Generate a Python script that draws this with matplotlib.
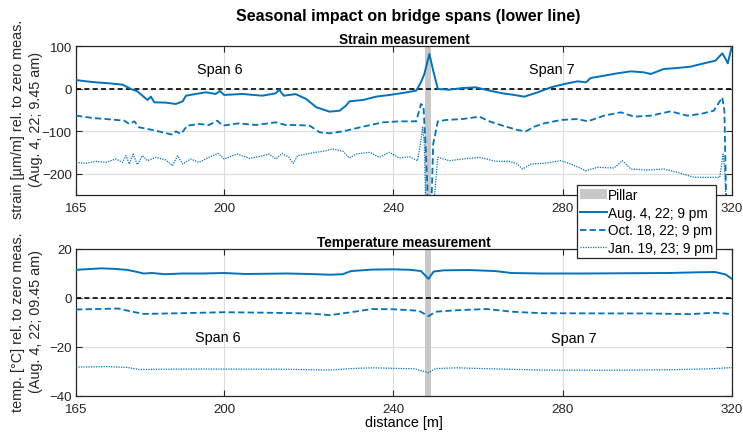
import matplotlib
matplotlib.use("Agg")
import matplotlib.pyplot as plt
from matplotlib.patches import Patch
from matplotlib.lines import Line2D

plt.rcParams['font.family'] = ['Liberation Sans', 'DejaVu Sans']

# ---------------- data ----------------
pillar = (247.5, 248.9)

# Strain, Aug. 4, 22; 9 pm (solid)
s_aug_x = [165, 167.4, 169.7, 172.9, 176, 178, 179.5, 180.7, 181.9, 182.7, 183.5, 186.2, 188.6,
           190.2, 191, 193.3, 195.7, 198, 199, 200, 204.3, 209, 212.2, 213, 214.1, 216.9,
           219.4, 221.8, 224.9, 227.3, 228.8, 229.6, 232.8, 235.9, 239.1, 242.2, 245.4,
           246.5, 247.3, 248.5, 249.4, 250.5, 253.2, 256.4, 259.5, 262.7, 265.8, 268.6,
           270.9, 274.1, 277.2, 280.4, 283.5, 285.5, 286.6, 289.8, 292.9, 296.1, 299.2,
           300.8, 303.9, 307.1, 310.2, 313.4, 316.1, 317.7, 318.5, 319, 320]
s_aug_y = [20.1, 17, 14.7, 12.3, 9.2, -1, -6.5, -16.7, -26.8, -19, -32.3, -33, -36.2,
           -30, -16.7, -12.7, -8.8, -12.7, -5.7, -15, -12.7, -16.7, -11.2, -2.6, -16.7, -13,
           -24.5, -44, -54.2, -51.9, -40.2, -30, -26.8, -19, -15, -10.4, -4.9,
           14.7, 34.2, 81.2, 42, -1, -2.6, 1.3, 2.9, -4.9, -11.2, -15,
           -19, -8.8, 2.9, 10.7, 17, 14.7, 24.8, 30.3, 35.8, 40.5, 38.1,
           34.2, 46, 48.3, 51.5, 59.3, 65.6, 82.8, 69.5, 59.3, 100.8]

# Strain, Oct. 18, 22; 9 pm (dashed)
s_oct_x = [165, 168.9, 172.9, 176.4, 177.6, 178.8, 179.9, 183.1, 185.4, 187.8, 188.6, 189.8,
           191.3, 194.1, 196.4, 198.4, 199.6, 203.5, 207.5, 212.2, 214.5, 216.9, 220.2,
           222.6, 224.9, 228.1, 232.8, 237.5, 241.4, 245.4, 246.5, 247.1, 247.7, 248.3,
           248.9, 249.4, 250.5, 252.4, 256.4, 260.3, 262.7, 265.8, 269.3, 271.3, 273.3,
           275.6, 279.6, 283.5, 285.9, 289.8, 293.7, 296.9, 300.8, 305.5, 309.4, 312.6,
           315.7, 317.7, 318.2, 318.7, 320]
s_oct_y = [-63.6, -69.1, -72.3, -75.4, -83.2, -77, -91, -97.3, -102.8, -108.3, -100.4, -106.7,
           -87.1, -83.2, -85.6, -75.4, -87.1, -81.7, -85.6, -79.3, -85.6, -85.6, -87.1,
           -102.8, -105.1, -100.4, -89.5, -79.3, -77, -77, -36.2, -40.2, -153.7, -300,
           -300, -130.2, -77, -73.8, -71.5, -66, -77, -87.1, -97.3, -100.4, -89.5,
           -81.7, -73.8, -71.5, -77, -63.6, -55.8, -66, -63.6, -53.5, -63.6, -59.7,
           -51.9, -20.6, -51.9, -300, -300]

# Strain, Jan. 19, 23; 9 pm (dotted)
s_jan_x = [165, 167.4, 169.7, 172.1, 174.4, 176, 176.8, 177.6, 178.5, 179.5, 180.7, 181.9,
           183.9, 186.2, 187.8, 189, 190.2, 192.1, 194.1, 196.4, 198.6, 200, 203.1, 205.9,
           208.2, 210.6, 212.2, 213.7, 215.3, 216.3, 217.4, 220.2, 223.3, 225.7, 228.1,
           229.6, 231.2, 234.4, 236.7, 239.1, 241.4, 243.8, 245.7, 246.5, 246.9, 247.3,
           247.7, 249.3, 250.5, 253.2, 256.4, 260.3, 264.2, 267.4, 269.3, 270.5, 272.5,
           275.6, 279.6, 281.9, 285.5, 288.2, 292.1, 294.1, 296.1, 300, 303.9, 307.1,
           311, 314.9, 317.1, 317.9, 318.3, 318.7, 320]
s_jan_y = [-173.3, -175.6, -170.9, -173.3, -165.4, -173.3, -157.6, -177.2, -153.7, -178.7,
           -157.6, -169.4, -161.5, -167.8, -181.1, -157.6, -177.2, -165.4, -173.3, -161.5,
           -152.1, -165.4, -153.7, -163.9, -160, -153.7, -165.4, -152.1, -161.5, -175.6,
           -157.6, -152.1, -147.4, -141.9, -147.4, -163.1, -153.7, -149.8, -161.5, -149.8,
           -163.1, -160, -169.4, -122.4, -91, -130.2, -300, -300, -161.5, -169.4, -165.4,
           -161.5, -170.9, -170.9, -177.2, -189, -177.2, -175.6, -169.4, -177.2, -192.8,
           -185, -186.6, -169.4, -189, -191.3, -189, -196.8, -208.5, -208.5, -208.5,
           -153.7, -192.8, -300, -300]

# Temperature, Aug. (solid)
t_aug_x = [165, 168, 171, 174, 177, 179, 181, 183, 186, 190, 195, 200, 205, 210, 215, 220,
           225, 228, 230, 235, 240, 244, 246.5, 248.3, 249.5, 252, 258, 264, 268, 275, 285,
           295, 305, 312, 316, 318.5, 320]
t_aug_y = [11.5, 11.8, 12.1, 11.9, 11.5, 10.8, 10.0, 10.2, 9.7, 10.0, 10.0, 10.2, 9.8, 9.9,
           10.0, 9.8, 9.5, 9.7, 11.0, 11.6, 11.7, 11.5, 11.0, 7.8, 10.8, 11.3, 11.4, 11.0,
           10.2, 10.0, 10.0, 10.1, 10.2, 10.5, 10.6, 9.6, 7.8]

# Temperature, Oct. (dashed)
t_oct_x = [165, 170, 175, 178, 181, 190, 200, 210, 220, 225, 230, 235, 240, 246, 248.3, 250,
           255, 262, 268, 275, 290, 300, 310, 316, 320]
t_oct_y = [-4.7, -4.5, -4.3, -5.5, -6.5, -6.2, -5.8, -6.0, -6.3, -7.0, -5.8, -4.5, -4.6,
           -5.2, -7.4, -5.6, -5.0, -4.5, -5.6, -6.2, -6.3, -6.3, -6.6, -6.0, -6.6]

# Temperature, Jan. (dotted)
t_jan_x = [165, 172, 177, 180, 190, 200, 215, 225, 230, 235, 245, 248.3, 250, 255, 265, 275,
           290, 305, 315, 320]
t_jan_y = [-28.2, -28.0, -28.3, -29.2, -29.0, -29.0, -29.1, -29.4, -28.8, -28.5, -28.9,
           -30.5, -28.8, -28.5, -29.0, -29.4, -29.5, -29.3, -28.9, -28.4]

labels = ["Aug. 4, 22; 9 pm", "Oct. 18, 22; 9 pm", "Jan. 19, 23; 9 pm"]
xticks = [165, 200, 240, 280, 320]

# ---------------- styling ----------------
blue = "#0072BD"
fs = 9.6
fs_lab = 10.4
solid_kw = dict(color=blue, lw=1.4, ls='-')
dash_kw = dict(color=blue, lw=1.3, ls=(0, (3.5, 1.8)))
dot_kw = dict(color=blue, lw=0.9, ls=(0, (1, 1)))

fig = plt.figure(figsize=(7.43, 4.35), dpi=100)
ax1 = fig.add_axes([76/743, 1-196/435, 656/743, 149/435])
ax2 = fig.add_axes([76/743, 1-397/435, 656/743, 147/435])


def style(ax, ylim, yticks):
    ax.set_xlim(165, 320)
    ax.set_ylim(*ylim)
    ax.set_xticks(xticks)
    ax.set_yticks(yticks)
    ax.grid(True, color="#dcdcdc", lw=0.8)
    ax.set_axisbelow(True)
    ax.tick_params(direction='in', length=4, width=0.8, labelsize=fs, colors="#262626",
                   top=True, right=True)
    ax.tick_params(axis='x', pad=5)
    ax.tick_params(axis='y', pad=3)
    for sp in ax.spines.values():
        sp.set_color("#262626")
        sp.set_linewidth(0.9)
    ax.axvspan(*pillar, color="#c8c8c8", lw=0, zorder=1)
    ax.axhline(0, color="black", lw=1.2, ls=(0, (3, 2)), zorder=2)


style(ax1, (-250, 100), [-200, -100, 0, 100])
ax1.plot(s_aug_x, s_aug_y, **solid_kw, zorder=3)
ax1.plot(s_oct_x, s_oct_y, **dash_kw, zorder=3)
ax1.plot(s_jan_x, s_jan_y, **dot_kw, zorder=3)
ax1.text(199, 45, "Span 6", ha='center', va='center', fontsize=fs_lab)
ax1.text(277.5, 47, "Span 7", ha='center', va='center', fontsize=fs_lab)
ax1.set_title("Strain measurement", fontsize=9.8, fontweight='bold', pad=2)

style(ax2, (-40, 20), [-40, -20, 0, 20])
ax2.plot(t_aug_x, t_aug_y, **solid_kw, zorder=3)
ax2.plot(t_oct_x, t_oct_y, **dash_kw, zorder=3)
ax2.plot(t_jan_x, t_jan_y, **dot_kw, zorder=3)
ax2.text(198.5, -16, "Span 6", ha='center', va='center', fontsize=fs_lab)
ax2.text(282.7, -16.3, "Span 7", ha='center', va='center', fontsize=fs_lab)
ax2.set_title("Temperature measurement", fontsize=9.8, fontweight='bold', pad=2)
ax2.set_xlabel("distance [m]", fontsize=fs_lab, labelpad=0)

fig.text(408/743, 1-16/435, "Seasonal impact on bridge spans (lower line)",
         ha='center', va='center', fontsize=11.5, fontweight='bold')

fig.text(27/743, 1-119/435, "strain [µm/m] rel. to zero meas.\n(Aug. 4, 22; 9.45 am)",
         rotation=90, ha='center', va='center', fontsize=fs_lab, multialignment='center',
         color="#262626", linespacing=1.3)
fig.text(27/743, 1-322/435, "temp. [°C] rel. to zero meas.\n(Aug. 4, 22; 09.45 am)",
         rotation=90, ha='center', va='center', fontsize=fs_lab, multialignment='center',
         color="#262626", linespacing=1.3)

handles = [Patch(facecolor="#c8c8c8", edgecolor="none"),
           Line2D([], [], **solid_kw), Line2D([], [], **dash_kw), Line2D([], [], **dot_kw)]
leg = fig.legend(handles, ["Pillar"] + labels, loc='upper left',
                 bbox_to_anchor=(577/743, 1-186/435), borderaxespad=0, fontsize=9.8,
                 fancybox=False, framealpha=1, edgecolor="#262626", handlelength=2.0,
                 handletextpad=0.1, borderpad=0.2, labelspacing=0.28)
leg.get_frame().set_linewidth(0.9)
leg.set_zorder(10)

fig.savefig("out.png", dpi=100)
